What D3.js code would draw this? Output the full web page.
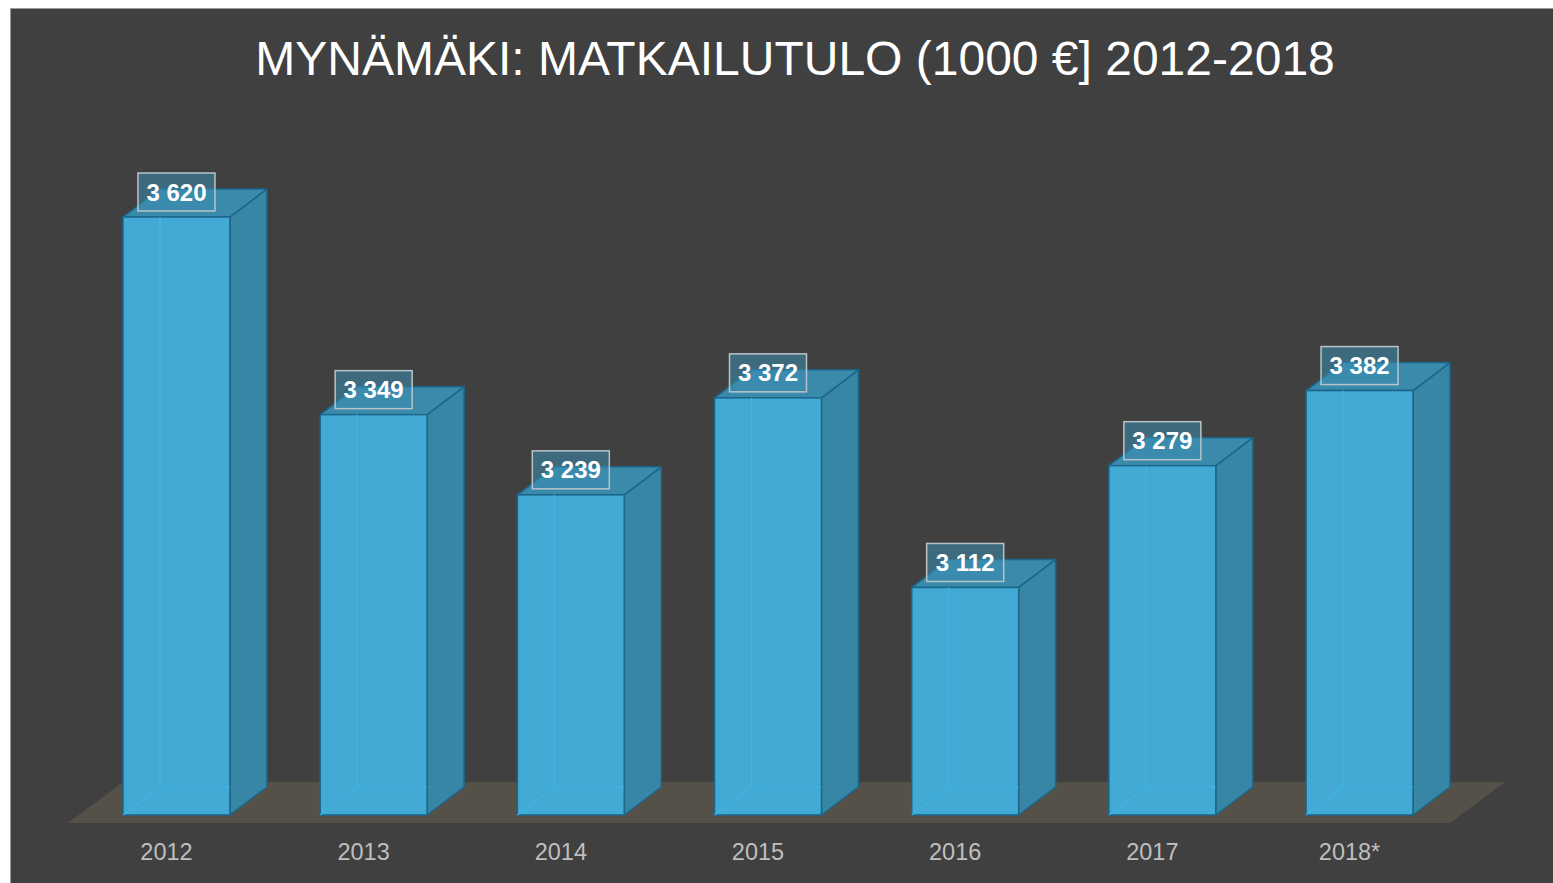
<!DOCTYPE html>
<html>
<head>
<meta charset="utf-8">
<script src="https://cdn.jsdelivr.net/npm/d3@7"></script>
<style>
  html, body { margin: 0; padding: 0; background: #ffffff; }
  svg { display: block; }
</style>
</head>
<body>
<script>
const years = ["2012", "2013", "2014", "2015", "2016", "2017", "2018*"];
const income = [3620, 3349, 3239, 3372, 3112, 3279, 3382];
const titleText = "MYNÄMÄKI: MATKAILUTULO (1000 €] 2012-2018";

const width = 1553;
const height = 883;
const baseY = 815;
const depthX = 37;
const depthY = 28;

const data = years.map((year, i) => ({ year, value: income[i] }));

const svg = d3.select("body")
  .append("svg")
  .attr("width", width)
  .attr("height", height);

svg.append("rect")
  .attr("x", 10.5)
  .attr("y", 8.5)
  .attr("width", 1552)
  .attr("height", 884)
  .attr("fill", "#404040")
  .attr("stroke", "#9a9a9a")
  .attr("stroke-width", 1);

svg.append("text")
  .attr("x", 795)
  .attr("y", 75)
  .attr("text-anchor", "middle")
  .attr("font-family", "Liberation Sans, Arial, sans-serif")
  .attr("font-size", 48)
  .attr("fill", "#ffffff")
  .text(titleText);

const x = d3.scaleBand()
  .domain(years)
  .range([123, 1413])
  .paddingInner(0.4578)
  .paddingOuter(0);

const y = d3.scaleLinear()
  .domain([2800, 3620])
  .range([baseY, 217]);

// floor
svg.append("polygon")
  .attr("points", [[68, 823], [1450, 823], [1505, 782], [123, 782]].join(" "))
  .attr("fill", "#555149");

const bw = x.bandwidth();

const bars = svg.selectAll("g.bar")
  .data(data)
  .join("g")
  .attr("class", "bar");

// side face
bars.append("polygon")
  .attr("points", d => {
    const x0 = x(d.year) + bw, t = y(d.value);
    return [[x0, t], [x0 + depthX, t - depthY], [x0 + depthX, baseY - depthY], [x0, baseY]].join(" ");
  })
  .attr("fill", "#3786a6")
  .attr("stroke", "#1b668a")
  .attr("stroke-width", 1.5)
  .attr("stroke-linejoin", "round");

// top face
bars.append("polygon")
  .attr("points", d => {
    const x0 = x(d.year), t = y(d.value);
    return [[x0, t], [x0 + depthX, t - depthY], [x0 + bw + depthX, t - depthY], [x0 + bw, t]].join(" ");
  })
  .attr("fill", "#3a8aac")
  .attr("stroke", "#1b668a")
  .attr("stroke-width", 1.5)
  .attr("stroke-linejoin", "round");

// front face
bars.append("rect")
  .attr("x", d => x(d.year))
  .attr("y", d => y(d.value))
  .attr("width", bw)
  .attr("height", d => baseY - y(d.value))
  .attr("fill", "#42aad4")
  .attr("stroke", "#1b668a")
  .attr("stroke-width", 1.5);

// hidden edges seen through the bar
bars.append("path")
  .attr("d", d => {
    const x0 = x(d.year), t = y(d.value);
    return `M${x0 + depthX},${t}V${baseY - depthY}H${x0 + bw}` +
      `M${x0},${baseY}L${x0 + depthX},${baseY - depthY}`;
  })
  .attr("fill", "none")
  .attr("stroke", "#3cb6e2")
  .attr("stroke-width", 1.2);

// value labels
const labels = svg.selectAll("g.label")
  .data(data)
  .join("g")
  .attr("class", "label")
  .attr("transform", d => `translate(${x(d.year) + bw / 2},${y(d.value) - 25})`);

labels.append("rect")
  .attr("x", -38.5)
  .attr("y", -19)
  .attr("width", 77)
  .attr("height", 38)
  .attr("fill", "rgba(58,140,175,0.55)")
  .attr("stroke", "#b8c4c9")
  .attr("stroke-width", 1.5);

labels.append("text")
  .attr("y", 8.5)
  .attr("text-anchor", "middle")
  .attr("font-family", "Liberation Sans, Arial, sans-serif")
  .attr("font-weight", "bold")
  .attr("font-size", 24)
  .attr("fill", "#ffffff")
  .text(d => d3.format(",")(d.value).replace(",", " "));

// category labels
svg.selectAll("text.year")
  .data(data)
  .join("text")
  .attr("class", "year")
  .attr("x", d => x(d.year) + bw / 2 - 10)
  .attr("y", 860)
  .attr("text-anchor", "middle")
  .attr("font-family", "Liberation Sans, Arial, sans-serif")
  .attr("font-size", 23.5)
  .attr("fill", "#bfbfbf")
  .text(d => d.year);
</script>
</body>
</html>
